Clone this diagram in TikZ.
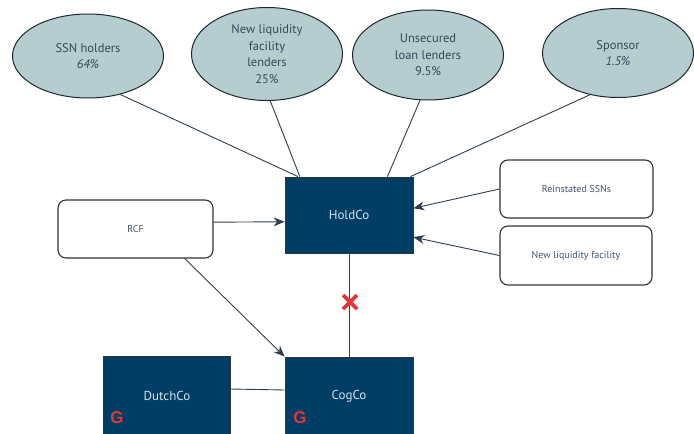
\documentclass[tikz,border=0pt]{standalone}
\usepackage{fontspec}
\setmainfont{PT Sans}
\newfontfamily\gfont{Liberation Sans}
\usetikzlibrary{shapes.geometric,arrows.meta}
\definecolor{ellfill}{RGB}{182,205,208}
\definecolor{ellline}{RGB}{30,40,48}
\definecolor{elltext}{RGB}{52,72,88}
\definecolor{navy}{RGB}{0,62,102}
\definecolor{navytext}{RGB}{212,226,236}
\definecolor{wtext}{RGB}{66,84,104}
\definecolor{conn}{RGB}{48,62,76}
\definecolor{gred}{RGB}{232,52,52}
\tikzset{
  holder/.style={ellipse, draw=ellline, line width=1pt, fill=ellfill, minimum width=151pt, minimum height=88pt, inner sep=0pt, align=center, text=elltext, font=\fontsize{12.5}{16.5}\selectfont},
  entity/.style={rectangle, draw=black!80, line width=0.8pt, fill=navy, text=navytext, minimum width=128pt, inner sep=0pt, font=\fontsize{13}{15}\selectfont},
  instr/.style={rectangle, rounded corners=8pt, draw=black!80, line width=1.1pt, fill=white, text=wtext, inner sep=0pt, font=\fontsize{10}{12}\selectfont},
  link/.style={draw=conn, line width=0.9pt},
  arr/.style={link, -{Stealth[length=11pt,width=9pt]}},
  gmark/.style={text=gred, font=\gfont\bfseries\fontsize{17}{17}\selectfont, inner sep=0pt},
}
\begin{document}
\begin{tikzpicture}[x=1pt,y=-1pt]
\useasboundingbox (0,0) rectangle (694,434);
\begin{scope}
\clip (0,0) rectangle (694,434);
% ellipses
\node[holder, minimum height=84pt] (e1) at (88,56) {SSN holders\\\textit{64\%}};
\node[holder, minimum height=93pt] (e2) at (267,54) {New liquidity\\facility\\lenders\\25\%};
\node[holder, minimum height=90pt] (e3) at (428,55) {Unsecured\\loan lenders\\9.5\%};
\node[holder, minimum height=89pt] (e4) at (618,53) {Sponsor\\\textit{1.5\%}};
% entities
\node[entity, minimum height=76pt] (holdco) at (349,215) {HoldCo};
\node[entity, minimum width=127pt, minimum height=82pt] (dutch) at (166.5,397) {};
\node[entity, minimum height=82pt] (cogco) at (349,398) {};
\node[text=navytext, font=\fontsize{13}{15}\selectfont] (dutchlbl) at (167,396) {DutchCo};
\node[text=navytext, font=\fontsize{13}{15}\selectfont] (cogcolbl) at (349,396) {CogCo};
\node[gmark] (g1) at (117,418) {G};
\node[gmark] (g2) at (300,418) {G};
% instruments
\node[instr, minimum width=155pt, minimum height=58pt] (rcf) at (135.5,229) {RCF};
\node[instr, minimum width=153pt, minimum height=58pt] (reinst) at (576.5,189) {Reinstated SSNs};
\node[instr, minimum width=152pt, minimum height=59pt] (nlf) at (576,255.5) {New liquidity facility};
% connectors from holders
\draw[link] (e1.-50) -- (holdco.143.8);
\draw[link] (e2.-86) -- (holdco.142.2);
\draw[link] (e3.-100) -- (holdco.45);
\draw[link] (e4.-124) -- (holdco.32);
% arrows
\draw[arr] (reinst.west) -- (holdco.6.2);
\draw[arr] (nlf.west) -- (holdco.-19.8);
\draw[arr] (rcf.5) -- (holdco.186.2);
\draw[arr] (rcf.-31.4) -- (cogco.north west);
% structural lines
\draw[link] (holdco.south) -- (cogco.north);
\draw[link] ([yshift=8pt]dutch.east) -- ([yshift=8pt]cogco.west);
% red cross
\coordinate (xmark) at (350,302);
\draw[gred, line width=3.8pt] ([shift={(-7,-7)}]xmark) -- ([shift={(7,7)}]xmark);
\draw[gred, line width=3.8pt] ([shift={(-7,7)}]xmark) -- ([shift={(7,-7)}]xmark);
\end{scope}
\end{tikzpicture}
\end{document}
